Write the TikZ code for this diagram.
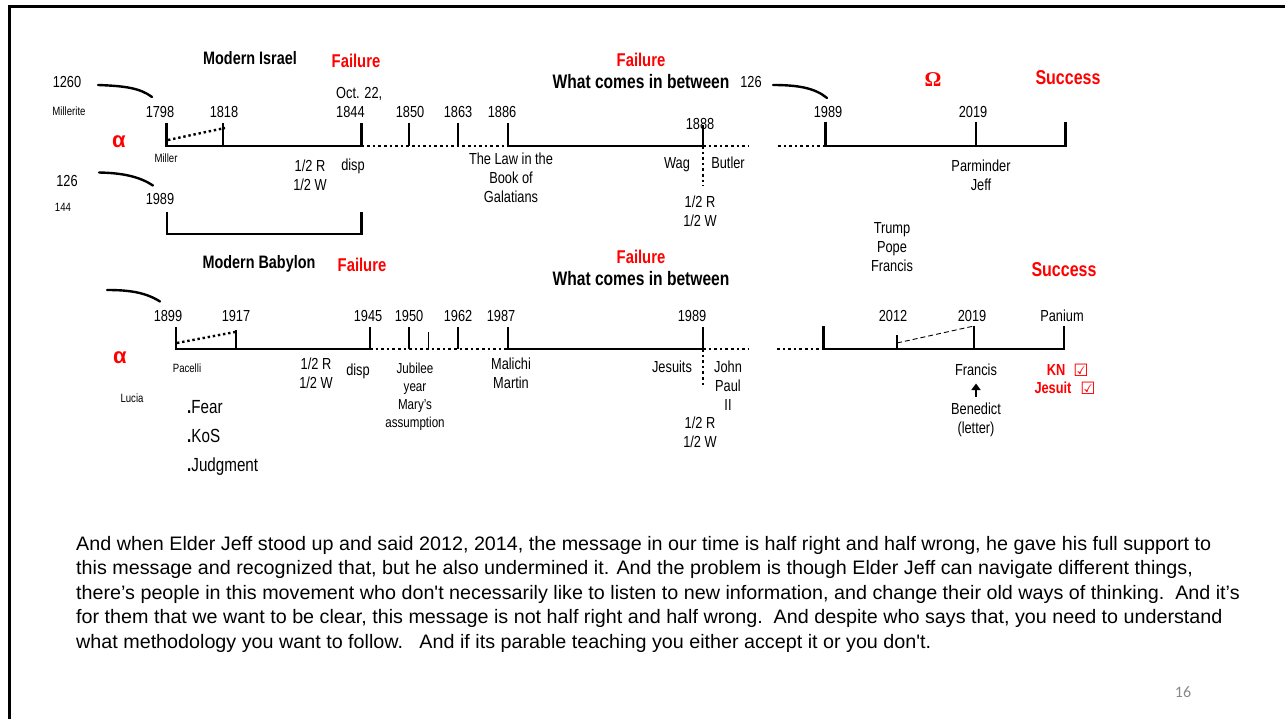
\documentclass[tikz,border=0pt]{standalone}
\usepackage{fontspec}
\setmainfont{Liberation Sans}[FakeStretch=0.8]
\newfontfamily\greekfont{Liberation Sans}
\newfontfamily\parafont{Liberation Sans}[FakeStretch=1.012]
\newfontfamily\omegafont{Liberation Serif}
\newfontfamily\symfont{DejaVu Sans}
\newfontfamily\numfont{Carlito}
\usetikzlibrary{arrows.meta}
\definecolor{slidered}{RGB}{255,0,0}
\definecolor{numgray}{RGB}{137,137,137}
\tikzset{
  axisline/.style={line width=2.6pt},
  dotline/.style={line width=2.6pt, dash pattern=on 2.6pt off 3pt},
  thinline/.style={line width=1pt},
  hookline/.style={line width=2.4pt, line cap=round},
  yr/.style={font=\fontsize{16}{19}\selectfont, inner sep=0pt, anchor=base},
  sm/.style={font=\fontsize{12}{14}\selectfont, inner sep=0pt, anchor=base},
  ml/.style={font=\fontsize{16}{19}\selectfont, inner sep=0pt, anchor=north, align=center},
  ttl/.style={font=\bfseries\fontsize{18}{21}\selectfont, inner sep=0pt, anchor=base},
  fail/.style={font=\bfseries\fontsize{18.5}{22}\selectfont, text=slidered, inner sep=0pt, anchor=base},
  wcib/.style={font=\bfseries\fontsize{19.5}{23}\selectfont, inner sep=0pt, anchor=base},
  succ/.style={font=\bfseries\fontsize{20}{24}\selectfont, text=slidered, inner sep=0pt, anchor=base},
  alph/.style={font=\greekfont\bfseries\fontsize{22}{24}\selectfont, text=slidered, inner sep=0pt, anchor=center},
  bullet/.style={font=\fontsize{19}{22}\selectfont, inner sep=0pt, anchor=base west},
  redmark/.style={font=\bfseries\fontsize{16}{19}\selectfont, text=slidered, inner sep=0pt, anchor=base},
  boxmark/.style={font=\symfont\fontsize{17}{19}\selectfont, text=slidered, inner sep=0pt, anchor=base},
}
\begin{document}
\begin{tikzpicture}[x=1pt,y=-1pt]
\useasboundingbox (0,0) rectangle (1285,719);
\fill[white] (0,0) rectangle (1285,719);
% slide frame
\draw[line width=2.5pt] (9.5,725) -- (9.5,6.5) -- (1290,6.5);

% ================= TOP TIMELINE (Modern Israel) =================
\node[ttl] (tIsrael) at (250,64.5) {Modern Israel};
\node[fail] (tFail1) at (356,67.5) {Failure};
\node[fail] (tFail2) at (641,66.5) {Failure};
\node[wcib] (tWhat) at (641,89) {What comes in between};
\node[yr] (t126b) at (751,88) {126};
\node[font=\omegafont\bfseries\fontsize{21}{24}\selectfont, text=slidered, inner sep=0pt, anchor=base] (tOmega) at (933,86.5) {Ω};
\node[succ] (tSucc) at (1068,85) {Success};

\node[yr] (t1260) at (67,88) {1260};
\node[sm] (tMillerite) at (69,115.3) {Millerite};
\node[alph] (tAlpha) at (119,142) {α};
\node[yr] (t126) at (67,187) {126};
\node[sm] (t144) at (63,211.3) {144};

\node[yr] (y1798) at (160,117.3) {1798};
\node[yr] (y1818) at (224,117.3) {1818};
\node[yr, anchor=base west] (yOct) at (336,98.8) {Oct. 22,};
\node[yr, anchor=base west] (y1844) at (336,117.3) {1844};
\node[yr] (y1850) at (410,117.3) {1850};
\node[yr] (y1863) at (458,117.3) {1863};
\node[yr] (y1886) at (502,117.3) {1886};
\node[yr] (y1888) at (700,129.8) {1888};
\node[yr] (y1989r) at (828,117.5) {1989};
\node[yr] (y2019r) at (973,117.5) {2019};

\node[sm] (tMiller) at (166,162.3) {Miller};
\node[ml] (tHalf1) at (310,160.2) {1/2 R\\1/2 W};
\node[yr] (tDisp) at (353,171) {disp};
\node[yr] (y1989) at (160,204.8) {1989};
\node[ml] (tLaw) at (511,153.2) {The Law in the\\Book of\\Galatians};
\node[yr] (tWag) at (677,168.8) {Wag};
\node[yr] (tButler) at (728,168.8) {Butler};
\node[ml] (tHalf2) at (700,196.2) {1/2 R\\1/2 W};
\node[ml] (tParm) at (981,160.2) {Parminder\\Jeff};
\node[ml] (tTrump) at (892,222) {Trump\\Pope\\Francis};

% axis coordinates
\coordinate (A1798) at (166.5,146);
\coordinate (A1818) at (223,146);
\coordinate (A1844) at (361.5,146);
\coordinate (A1850) at (409,146);
\coordinate (A1863) at (458,146);
\coordinate (A1886) at (508,146);
\coordinate (A1888) at (703,146);
\coordinate (Aend) at (749,146);
\coordinate (R0) at (778,146);
\coordinate (R1989) at (825.5,146);
\coordinate (R2019) at (976,146);
\coordinate (Rend) at (1065.5,146);

\draw[axisline] ([yshift=23pt]A1798) -- (A1798) -- (A1844) -- ([yshift=23pt]A1844);
\draw[axisline] (A1818) -- ([yshift=23pt]A1818);
\draw[dotline] (A1844) -- (A1886);
\draw[axisline] (A1850) -- ([yshift=23pt]A1850);
\draw[axisline] (A1863) -- ([yshift=23pt]A1863);
\draw[axisline] ([yshift=23pt]A1886) -- (A1886) -- (A1888) -- ([yshift=21pt]A1888);
\draw[dotline] (A1888) -- (Aend);
\draw[dotline] (A1888) -- ([yshift=-40pt]A1888);
\draw[line width=2.4pt, dash pattern=on 2.4pt off 2.8pt] (168,140) -- (225,128);
\draw[dotline] (R0) -- (R1989);
\draw[axisline] ([yshift=24pt]R1989) -- (R1989) -- (Rend) -- ([yshift=24pt]Rend);
\draw[axisline] (R2019) -- ([yshift=24pt]R2019);
% bracket
\draw[axisline] (167,212) -- (167,234) -- (361.5,234) -- (361.5,212);
% hooks
\draw[hookline] (98,85) .. controls (125,86) and (140,88) .. (152,97);
\draw[hookline] (99,172.5) .. controls (124,173) and (140,177) .. (153,185.5);
\draw[hookline] (773,85) .. controls (798,85) and (815,88) .. (827,98);

% ================= BOTTOM TIMELINE (Modern Babylon) =================
\node[ttl] (bBabylon) at (259,268.5) {Modern Babylon};
\node[fail] (bFail1) at (362,271.5) {Failure};
\node[fail] (bFail2) at (641,264) {Failure};
\node[wcib] (bWhat) at (641,285.7) {What comes in between};
\node[succ] (bSucc) at (1064,276.7) {Success};

\node[yr] (y1899) at (168,321.7) {1899};
\node[yr] (y1917) at (236,321.7) {1917};
\node[yr] (y1945) at (368,321.7) {1945};
\node[yr] (y1950) at (409,321.7) {1950};
\node[yr] (y1962) at (458,321.7) {1962};
\node[yr] (y1987) at (501,321.7) {1987};
\node[yr] (y1989b) at (692,321.7) {1989};
\node[yr] (y2012) at (893,321.3) {2012};
\node[yr] (y2019b) at (972,321.3) {2019};
\node[yr] (yPanium) at (1062,321.3) {Panium};

\node[alph] (bAlpha) at (120,358) {α};
\node[sm] (bPacelli) at (187,372.3) {Pacelli};
\node[sm] (bLucia) at (132,402.3) {Lucia};
\node[bullet] (bFear) at (187,413.3) {\textbf{.}Fear};
\node[bullet] (bKoS) at (187,442.3) {\textbf{.}KoS};
\node[bullet] (bJudg) at (187,471) {\textbf{.}Judgment};
\node[ml] (bHalf1) at (316,358.2) {1/2 R\\1/2 W};
\node[yr] (bDisp) at (358,375) {disp};
\node[ml, font=\fontsize{14.5}{18}\selectfont] (bJub) at (415,362.8) {Jubilee\\year\\Mary’s\\assumption};
\node[ml] (bMalichi) at (511,358.2) {Malichi\\Martin};
\node[yr] (bJesuits) at (672,372.8) {Jesuits};
\node[ml] (bJohn) at (728,361.2) {John\\Paul\\II};
\node[ml] (bHalf2) at (700,417.2) {1/2 R\\1/2 W};

\node[yr] (bFrancis) at (976,375) {Francis};
\node[ml] (bBenedict) at (976,403) {Benedict\\(letter)};
\coordinate (arrowTail) at (976,397);
\coordinate (arrowHead) at (976,383.5);
\draw[line width=2pt, -{Triangle[width=9pt,length=6.5pt]}] (arrowTail) -- (arrowHead);

\node[redmark] (bKN) at (1056,375) {KN};
\node[boxmark] (bKNbox) at (1081,376) {☑};
\node[redmark] (bJesuit) at (1053,393.3) {Jesuit};
\node[boxmark] (bJesbox) at (1088,394.3) {☑};

\coordinate (B1899) at (176,349);
\coordinate (B1917) at (236,349);
\coordinate (B1945) at (370,349);
\coordinate (B1950) at (409,349);
\coordinate (B1955) at (428,349);
\coordinate (B1962) at (458,349);
\coordinate (B1987) at (508,349);
\coordinate (B1989) at (703,349);
\coordinate (Bend) at (749,349);
\coordinate (S0) at (777,349);
\coordinate (S1) at (823.5,349);
\coordinate (S2012) at (897,349);
\coordinate (S2019) at (974,349);
\coordinate (SPan) at (1064,349);

\draw[axisline] ([yshift=22pt]B1899) -- (B1899) -- (B1945) -- ([yshift=22pt]B1945);
\draw[axisline] (B1917) -- ([yshift=19pt]B1917);
\draw[dotline] (B1945) -- (B1987);
\draw[axisline] (B1950) -- ([yshift=22pt]B1950);
\draw[thinline] (B1955) -- ([yshift=17pt]B1955);
\draw[axisline] (B1962) -- ([yshift=22pt]B1962);
\draw[axisline] ([yshift=22pt]B1987) -- (B1987) -- (B1989) -- ([yshift=22pt]B1989);
\draw[dotline] (B1989) -- (Bend);
\draw[dotline] (B1989) -- ([yshift=-39pt]B1989);
\draw[line width=2.4pt, dash pattern=on 2.4pt off 2.8pt] (177,343) -- (235,332);
\draw[dotline] (S0) -- (S1);
\draw[axisline] ([yshift=23pt]S1) -- (S1) -- (SPan) -- ([yshift=23pt]SPan);
\draw[axisline] (S2012) -- ([yshift=14pt]S2012);
\draw[axisline] (S2019) -- ([yshift=23pt]S2019);
\draw[line width=0.9pt, dash pattern=on 5pt off 3pt] (897,343) -- (974,326);
\draw[hookline] (107,290) .. controls (128,290) and (145,292) .. (160,301.5);

% ================= PARAGRAPH =================
\node[font=\parafont\fontsize{19.5}{24.5}\selectfont, inner sep=0pt, anchor=north west, align=left] (para) at (76,535.8)
{And when Elder Jeff stood up and said 2012, 2014, the message in our time is half right and half wrong, he gave his full support to\\
this message and recognized that, but he also undermined it. And the problem is though Elder Jeff can navigate different things,\\
there’s people in this movement who don't necessarily like to listen to new information, and change their old ways of thinking.\ \ And it’s\\
for them that we want to be clear, this message is not half right and half wrong.\ \ And despite who says that, you need to understand\\
what methodology you want to follow.\ \ \ And if its parable teaching you either accept it or you don't.};

\node[font=\numfont\fontsize{16}{18}\selectfont, text=numgray, inner sep=0pt, anchor=base] (pagenum) at (1183,697.3) {16};
\end{tikzpicture}
\end{document}
